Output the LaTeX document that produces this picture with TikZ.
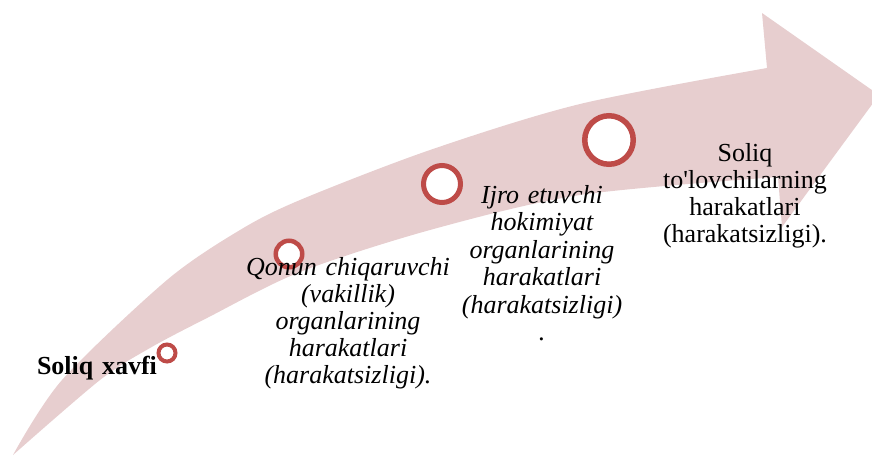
\documentclass[tikz,border=0pt]{standalone}
\usepackage{fontspec}
\setmainfont{Liberation Serif}[
  BoldFont={Liberation Serif Bold},
  ItalicFont={Liberation Serif Italic},
  BoldItalicFont={Liberation Serif Bold Italic}]
\usepackage{xcolor}
\definecolor{bandpink}{RGB}{231,206,207}
\definecolor{ringred}{RGB}{190,75,72}

\begin{document}
\begin{tikzpicture}[x=1pt, y=-1pt,
    ring/.style={circle, draw=ringred, fill=white, inner sep=0pt},
    lbl/.style={text width=220pt, align=center, anchor=base, inner sep=0pt,
                font=\fontsize{26}{27}\selectfont}]
  \useasboundingbox (0,0) rectangle (872,456);
  \clip (0,0) rectangle (872,456);
  \fill[bandpink]
    plot[smooth] coordinates {(13,455) (62,380) (167,280) (240,230) (300,200)
                              (430,150) (580,104) (767,68)}
    -- (762,13) -- (879,95) -- (782,227) -- (778,177)
    -- plot[smooth] coordinates {(778,177) (580,195) (430,230) (300,272)
                                 (207,318) (150,348) (100,380) (13,455)}
    -- cycle;
  \foreach \i/\x/\y/\d/\w in {1/167/353/17/4, 2/289/254/26.5/4.5,
                              3/442/184/37/5, 4/609/140/48.5/5.5}{
    \node[ring, minimum size=\d pt, line width=\w pt] (c\i) at (\x,\y) {};
  }
  \node[lbl, font=\fontsize{26}{27}\selectfont\bfseries] (risk) at (97,374)
    {Soliq xavfi};
  \node[lbl, font=\fontsize{26}{27}\selectfont\itshape] (legis) at (348,275)
    {Qonun chiqaruvchi\\(vakillik)\\organlarining\\harakatlari\\(harakatsizligi).};
  \node[lbl, font=\fontsize{26}{27.5}\selectfont\itshape] (exec) at (542,203)
    {Ijro etuvchi\\hokimiyat\\organlarining\\harakatlari\\(harakatsizligi)\\.};
  \node[lbl] (payers) at (745,161)
    {Soliq\\to\textquotesingle lovchilarning\\harakatlari\\(harakatsizligi).};
\end{tikzpicture}
\end{document}
